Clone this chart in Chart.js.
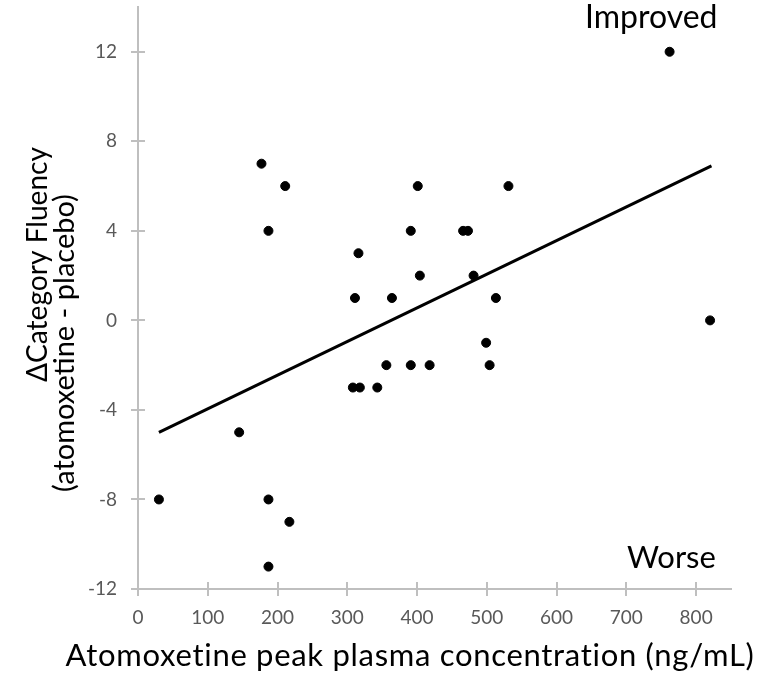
<!DOCTYPE html>
<html>
<head>
<meta charset="utf-8">
<script src="https://cdn.jsdelivr.net/npm/chart.js@4"></script>
<style>
  body { margin: 0; background: #fff; }
  #scatter { display: block; }
</style>
</head>
<body>
<canvas id="scatter" width="760" height="677"></canvas>
<script>
// peak plasma concentration (ng/mL) and change in category fluency
const concX = [30, 187, 217, 187, 177, 211, 187, 316, 311, 364, 401, 391, 404, 356, 391, 418,
               308, 318, 343, 145, 466, 473, 481, 531, 513, 499, 504, 762, 820];
const fluencyY = [-8, -8, -9, -11, 7, 6, 4, 3, 1, 1, 6, 4, 2, -2, -2, -2,
                  -3, -3, -3, -5, 4, 4, 2, 6, 1, -1, -2, 12, 0];
// fitted line
const trendX = [30, 822];
const trendY = [-5.0, 6.9];

const xTicks = [0, 100, 200, 300, 400, 500, 600, 700, 800];
const yTicks = [-12, -8, -4, 0, 4, 8, 12];

const xTitle = 'Atomoxetine peak plasma concentration (ng/mL)';
const yTitle = ['\u0394Category Fluency', '(atomoxetine - placebo)'];
const notes = ['Improved', 'Worse'];

const axisGrey = '#bfbfbf';
const labelGrey = '#595959';
const font = 'Lato';

// draws the inner half of the tick marks and all titles
const extras = {
  id: 'extras',
  afterDraw(chart) {
    const ctx = chart.ctx;
    const area = chart.chartArea;
    const x = chart.scales.x, y = chart.scales.y;
    ctx.save();
    ctx.strokeStyle = axisGrey;
    ctx.lineWidth = 2;
    ctx.beginPath();
    yTicks.forEach(v => {
      const py = Math.round(y.getPixelForValue(v));
      ctx.moveTo(area.left, py);
      ctx.lineTo(area.left + 7, py);
    });
    xTicks.forEach(v => {
      const px = Math.round(x.getPixelForValue(v));
      ctx.moveTo(px, area.bottom);
      ctx.lineTo(px, area.bottom - 7);
    });
    ctx.stroke();

    ctx.fillStyle = '#000';
    ctx.textBaseline = 'alphabetic';
    ctx.font = '31px ' + font;
    ctx.letterSpacing = '0.7px';
    ctx.textAlign = 'center';
    ctx.fillText(xTitle, 410, 666, 690);
    ctx.letterSpacing = '0px';

    ctx.textAlign = 'left';
    ctx.font = '32px ' + font;
    ctx.fillText(notes[0], 585, 28, 137);
    ctx.font = '31px ' + font;
    ctx.fillText(notes[1], 627, 568, 90);

    ctx.font = '29px ' + font;
    ctx.translate(47, 382);
    ctx.rotate(-Math.PI / 2);
    ctx.fillText(yTitle[0], 0, 0, 235);
    ctx.fillText(yTitle[1], -110, 27, 365);
    ctx.restore();
  }
};

const ctx = document.getElementById('scatter').getContext('2d');
const myChart = new Chart(ctx, {
  type: 'scatter',
  data: {
    datasets: [{
      data: concX.map((v, i) => ({ x: v, y: fluencyY[i] })),
      backgroundColor: '#000',
      borderColor: '#000',
      pointRadius: 4.5,
      pointHoverRadius: 4.5
    }, {
      data: trendX.map((v, i) => ({ x: v, y: trendY[i] })),
      showLine: true,
      borderColor: '#000',
      borderWidth: 3,
      pointRadius: 0
    }]
  },
  options: {
    responsive: false,
    animation: false,
    layout: { padding: { top: 7, right: 29, left: 0, bottom: 0 } },
    plugins: { legend: { display: false }, tooltip: { enabled: false } },
    scales: {
      x: {
        min: 0,
        max: 850,
        afterBuildTicks: s => { s.ticks = xTicks.map(v => ({ value: v })); },
        afterFit: s => { s.height = 88; s.paddingLeft = 0; s.paddingRight = 0; },
        ticks: { color: labelGrey, font: { family: font, size: 19 }, padding: 10, maxRotation: 0 },
        grid: { drawOnChartArea: false, drawTicks: true, tickLength: 7, color: axisGrey, lineWidth: 2 },
        border: { color: axisGrey, width: 2 }
      },
      y: {
        min: -12,
        max: 14,
        afterBuildTicks: s => { s.ticks = yTicks.map(v => ({ value: v })); },
        afterFit: s => { s.width = 138; s.paddingTop = 0; s.paddingBottom = 0; },
        ticks: { color: labelGrey, font: { family: font, size: 19 }, padding: 14 },
        grid: { drawOnChartArea: false, drawTicks: true, tickLength: 7, color: axisGrey, lineWidth: 2 },
        border: { color: axisGrey, width: 2 }
      }
    }
  },
  plugins: [extras]
});
</script>
</body>
</html>
